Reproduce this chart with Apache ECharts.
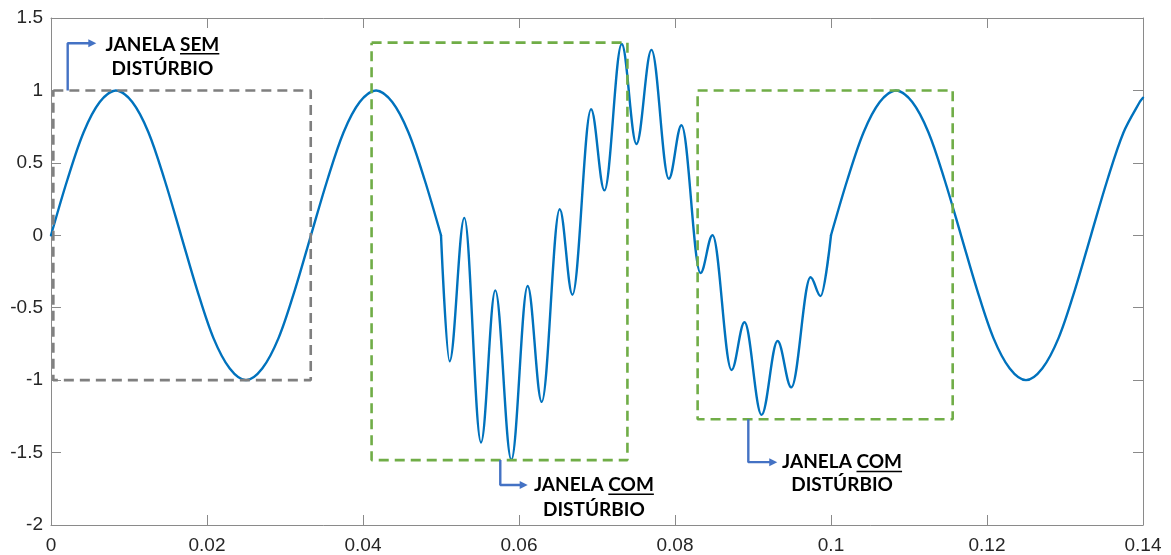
<!DOCTYPE html>
<html><head><meta charset="utf-8">
<script src="https://cdn.jsdelivr.net/npm/echarts@6/dist/echarts.min.js"></script>
<style>html,body{margin:0;padding:0;background:#fff;}#c{width:1171px;height:555px;}</style>
</head><body><div id="c"></div>
<script>
// ---- axis ranges [min, max, interval]
const xAxisRange = [0, 0.14, 0.02];
const yAxisRange = [-2, 1.5, 0.5];

// ---- waveform: [time, value]
const preDisturbance = [
  [0,0],[0.00208,0.38],[0.00417,0.71],[0.00625,0.92],[0.00833,1],[0.01042,0.92],[0.0125,0.71],[0.01458,0.38],
  [0.01667,0],[0.01875,-0.38],[0.02083,-0.71],[0.02292,-0.92],[0.025,-1],[0.02708,-0.92],[0.02917,-0.71],[0.03125,-0.38],
  [0.03333,0],[0.03542,0.38],[0.0375,0.71],[0.03958,0.92],[0.04167,1],[0.04375,0.92],[0.04583,0.71],[0.04792,0.38],[0.05,0]
];
// disturbed part: start point, successive peaks/valleys, end point
const disturbance = [
  [0.05,0],[0.0511,-0.87],[0.05299,0.12],[0.05513,-1.43],[0.05696,-0.38],[0.05902,-1.55],[0.06111,-0.35],
  [0.06291,-1.15],[0.06522,0.18],[0.06685,-0.41],[0.06924,0.87],[0.07095,0.31],[0.07317,1.32],[0.07506,0.63],
  [0.07698,1.28],[0.07921,0.39],[0.08083,0.76],[0.08327,-0.26],[0.08481,0.0],[0.08725,-0.93],[0.08891,-0.6],
  [0.0911,-1.24],[0.09315,-0.73],[0.09491,-1.05],[0.09738,-0.29],[0.09866,-0.42],[0.1,0]
];
const postDisturbance = [
  [0.1,0],[0.10208,0.38],[0.10417,0.71],[0.10625,0.92],[0.10833,1],[0.11042,0.92],[0.1125,0.71],[0.11458,0.38],
  [0.11667,0],[0.11875,-0.38],[0.12083,-0.71],[0.12292,-0.92],[0.125,-1],[0.12708,-0.92],[0.12917,-0.71],[0.13125,-0.38],
  [0.13333,0],[0.13542,0.38],[0.1375,0.71],[0.13958,0.92],[0.14,0.95]
];

// ---- annotation windows: [xLeft, xRight, yTop, yBottom]
const windowSem = [0.0003, 0.0333, 1.0, -1.0];
const windowCom1 = [0.0411, 0.0739, 1.33, -1.552];
const windowCom2 = [0.0829, 0.1156, 1.0, -1.27];

// ---- callout arrows (data coords)
const arrowSem = [[0.00214, 1.0], [0.00214, 1.326], [0.0053, 1.326]];
const arrowCom1 = [[0.0576, -1.552], [0.0576, -1.724], [0.0606, -1.724]];
const arrowCom2 = [[0.0894, -1.27], [0.0894, -1.566], [0.0926, -1.566]];

// ---- callout texts: [prefix, underlined word, second line], anchor [xCenter, yLine1, yLine2]
const calloutTexts = [
  ['JANELA ', 'SEM', 'DISTÚRBIO'],
  ['JANELA ', 'COM', 'DISTÚRBIO'],
  ['JANELA ', 'COM', 'DISTÚRBIO']
];
const calloutAnchors = [
  [0.01429, 1.317, 1.152],
  [0.0696, -1.724, -1.897],
  [0.10142, -1.566, -1.724]
];

const chart = echarts.init(document.getElementById('c'), null, {renderer: 'canvas'});
const axisColor = '#8a8a8a';
const waveColor = '#0072BD';
const fmt = v => String(+v.toFixed(2));

function rectPath(w) {
  return [[w[0], w[2]], [w[1], w[2]], [w[1], w[3]], [w[0], w[3]], [w[0], w[2]]];
}
function boxSeries(w, color) {
  return {
    type: 'line', data: rectPath(w), showSymbol: false, silent: true, z: 5, clip: false,
    lineStyle: {color: color, width: 2.6, type: [10, 6]}
  };
}
function arrowSeries(a) {
  const d = a.map((p, i) => i === a.length - 1
    ? {value: p, symbol: 'triangle', symbolRotate: -90, symbolSize: [8, 8], itemStyle: {color: '#4472C4'}}
    : {value: p});
  return {
    type: 'line', data: d, symbol: 'none', showSymbol: true, silent: true, z: 6, clip: false,
    lineStyle: {color: '#4472C4', width: 2.4}
  };
}
function waveSeries(data, smooth, monotone) {
  const s = {
    type: 'line', data: data, smooth: smooth, showSymbol: false, silent: true, z: 2,
    lineStyle: {color: waveColor, width: 2.4, cap: 'round', join: 'round'}
  };
  if (monotone) s.smoothMonotone = monotone;
  return s;
}

const baseX = {
  type: 'value', min: xAxisRange[0], max: xAxisRange[1], interval: xAxisRange[2],
  splitLine: {show: false},
  axisLine: {show: true, onZero: false, lineStyle: {color: axisColor, width: 1}},
  axisTick: {show: true, inside: true, length: 10, lineStyle: {color: axisColor}}
};
const baseY = {
  type: 'value', min: yAxisRange[0], max: yAxisRange[1], interval: yAxisRange[2],
  splitLine: {show: false},
  axisLine: {show: true, onZero: false, lineStyle: {color: axisColor, width: 1}},
  axisTick: {show: true, inside: true, length: 10, lineStyle: {color: axisColor}}
};
const labelFont = {color: '#262626', fontSize: 19, fontFamily: 'Liberation Sans, Arial, sans-serif', formatter: fmt};

chart.setOption({
  animation: false,
  backgroundColor: '#ffffff',
  grid: {left: 51, right: 28, top: 18, bottom: 30, containLabel: false},
  xAxis: [
    Object.assign({}, baseX, {position: 'bottom', axisLabel: Object.assign({margin: 11}, labelFont)}),
    Object.assign({}, baseX, {position: 'top', axisLabel: {show: false}})
  ],
  yAxis: [
    Object.assign({}, baseY, {position: 'left', axisLabel: Object.assign({margin: 8}, labelFont)}),
    Object.assign({}, baseY, {position: 'right', axisLabel: {show: false}})
  ],
  series: [
    waveSeries(preDisturbance, 0.33),
    waveSeries(disturbance, 0.36, 'x'),
    waveSeries(postDisturbance, 0.33),
    boxSeries(windowSem, '#7f7f7f'),
    boxSeries(windowCom1, '#70AD47'),
    boxSeries(windowCom2, '#70AD47'),
    arrowSeries(arrowSem),
    arrowSeries(arrowCom1),
    arrowSeries(arrowCom2)
  ]
});

// ---- callout texts as graphic elements (positioned through the axes)
const font = 'bold 19px Lato, "Open Sans", sans-serif';
const ctx = document.createElement('canvas').getContext('2d');
ctx.font = font;
const elements = [];
calloutTexts.forEach((t, i) => {
  const a = calloutAnchors[i];
  const p1 = chart.convertToPixel({xAxisIndex: 0, yAxisIndex: 0}, [a[0], a[1]]);
  const p2 = chart.convertToPixel({xAxisIndex: 0, yAxisIndex: 0}, [a[0], a[2]]);
  const w0 = ctx.measureText(t[0]).width;
  const w1 = ctx.measureText(t[1]).width;
  const left = p1[0] - (w0 + w1) / 2;
  elements.push({type: 'text', z: 10, style: {text: t[0], x: left, y: p1[1], font: font, fill: '#000', textAlign: 'left', textVerticalAlign: 'middle'}});
  elements.push({type: 'text', z: 10, style: {text: t[1], x: left + w0, y: p1[1], font: font, fill: '#000', textAlign: 'left', textVerticalAlign: 'middle'}});
  elements.push({type: 'rect', z: 10, shape: {x: left + w0, y: p1[1] + 8.5, width: w1, height: 1.6}, style: {fill: '#000'}});
  elements.push({type: 'text', z: 10, style: {text: t[2], x: p2[0], y: p2[1], font: font, fill: '#000', textAlign: 'center', textVerticalAlign: 'middle'}});
});
chart.setOption({graphic: {elements: elements}});
</script>
</body></html>
